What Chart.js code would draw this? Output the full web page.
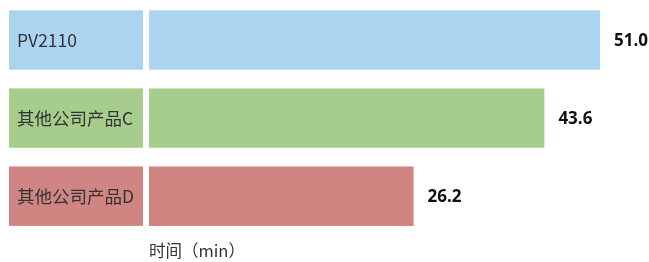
<!DOCTYPE html>
<html><head><meta charset="utf-8">
<script src="https://cdn.jsdelivr.net/npm/chart.js@4"></script>
<style>html,body{margin:0;padding:0;background:#fff;}#wrap{width:649px;height:262px;}</style>
</head><body><div id="wrap"><canvas id="c" width="649" height="262"></canvas></div>
<script>
const categories = ['PV2110', '其他公司产品C', '其他公司产品D'];
const values = [51.0, 43.6, 26.2];
const barColors = ['#abd4f1', '#a6cd8c', '#d08582'];
const axisTitle = '时间（min）';
const axisStart = -9;

const labelBoxes = {
  id: 'labelBoxes',
  afterDatasetsDraw(chart) {
    const ctx = chart.ctx;
    const meta = chart.getDatasetMeta(0);
    ctx.save();
    meta.data.forEach((bar, i) => {
      const h = bar.height;
      ctx.fillStyle = barColors[i];
      ctx.fillRect(9, bar.y - h / 2, 134, h);
      ctx.fillStyle = '#333';
      ctx.font = '17.5px "Noto Sans CJK SC", "Noto Sans", sans-serif';
      ctx.textBaseline = 'middle';
      ctx.textAlign = 'left';
      ctx.fillText(categories[i], 17, bar.y);
      ctx.fillStyle = '#111';
      ctx.font = 'bold 17px "Open Sans", sans-serif';
      ctx.fillText(values[i].toFixed(1), bar.x + 14, bar.y + 1);
    });
    ctx.restore();
  }
};

new Chart(document.getElementById('c'), {
  type: 'bar',
  data: {
    labels: categories,
    datasets: [{ data: values, base: axisStart, backgroundColor: barColors, borderWidth: 0, barPercentage: 0.87, categoryPercentage: 0.875 }]
  },
  options: {
    indexAxis: 'y',
    responsive: false,
    animation: false,
    layout: { padding: { left: 0, right: 49, top: 1, bottom: 0 } },
    plugins: { legend: { display: false }, tooltip: { enabled: false } },
    scales: {
      x: {
        min: axisStart, max: 51,
        grid: { display: false, drawTicks: false },
        border: { display: false },
        ticks: { display: false },
        title: { display: true, text: axisTitle, align: 'start', color: '#333',
          font: { size: 16.5, family: '"Noto Sans CJK SC", sans-serif' }, padding: { top: 6, bottom: 1 } }
      },
      y: {
        grid: { display: false, drawTicks: false },
        border: { display: false },
        ticks: { display: false },
        afterFit(s) { s.width = 149; }
      }
    }
  },
  plugins: [labelBoxes]
});
</script></body></html>
